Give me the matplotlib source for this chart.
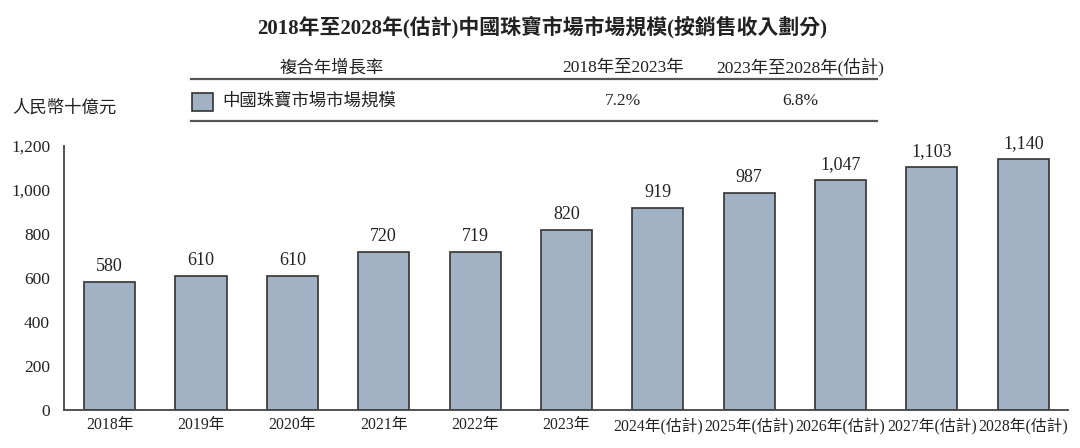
import matplotlib.pyplot as plt
from matplotlib.patches import Rectangle

# 数据
years = ['2018年', '2019年', '2020年', '2021年', '2022年', '2023年',
         '2024年(估計)', '2025年(估計)', '2026年(估計)', '2027年(估計)', '2028年(估計)']
values = [580, 610, 610, 720, 719, 820, 919, 987, 1047, 1103, 1140]
value_labels = ['580', '610', '610', '720', '719', '820', '919', '987', '1,047', '1,103', '1,140']
yticks = [0, 200, 400, 600, 800, 1000, 1200]
ytick_labels = ['0', '200', '400', '600', '800', '1,000', '1,200']
cagr_headers = ['2018年至2023年', '2023年至2028年(估計)']
cagr_values = ['7.2%', '6.8%']

plt.rcParams['font.family'] = ['Liberation Serif', 'Noto Sans CJK TC']
text_color = '#222222'
bar_color = '#a0b2c4'

fig = plt.figure(figsize=(10.8, 4.48), dpi=100)
ax = fig.add_axes([64 / 1080, 1 - 410 / 448, (1068 - 64) / 1080, (410 - 146) / 448])

x = range(len(years))
ax.bar(x, values, width=0.56, color=bar_color, edgecolor='#333333', linewidth=1.2)
for i, (v, lab) in enumerate(zip(values, value_labels)):
    ax.annotate(lab, (i, v), xytext=(0, 5), textcoords='offset points',
                ha='center', va='bottom', fontsize=13, color=text_color)

ax.set_xlim(-0.50, 10.49)
ax.set_ylim(0, 1200)
ax.set_yticks(yticks)
ax.set_yticklabels(ytick_labels)
ax.set_xticks(list(x))
ax.set_xticklabels(years)
ax.tick_params(axis='both', length=0, labelsize=12.5, colors=text_color)
ax.tick_params(axis='x', labelsize=11.3, pad=5)
ax.tick_params(axis='y', pad=10)
for s in ['top', 'right']:
    ax.spines[s].set_visible(False)
for s in ['left', 'bottom']:
    ax.spines[s].set_color('#444444')
    ax.spines[s].set_linewidth(1.3)

# 标题与表格
def fx(px):
    return px / 1080

def fy(py):
    return 1 - py / 448

fig.text(fx(542), fy(27), '2018年至2028年(估計)中國珠寶市場市場規模(按銷售收入劃分)',
         ha='center', va='center', fontsize=15, fontweight='bold', color=text_color)
fig.text(fx(332), fy(68), '複合年增長率', ha='center', va='center', fontsize=12.5, color=text_color)
fig.text(fx(623), fy(68), cagr_headers[0], ha='center', va='center', fontsize=12.5, color=text_color)
fig.text(fx(800), fy(68), cagr_headers[1], ha='center', va='center', fontsize=12.5, color=text_color)
fig.add_artist(plt.Line2D([fx(191), fx(877)], [fy(79), fy(79)], color='#555555', lw=1.6))
fig.add_artist(plt.Line2D([fx(191), fx(877)], [fy(121), fy(121)], color='#555555', lw=1.6))
fig.add_artist(Rectangle((fx(192), fy(111)), fx(21), 18 / 448, facecolor=bar_color,
                         edgecolor='#333333', linewidth=1.2))
fig.text(fx(222), fy(101), '中國珠寶市場市場規模', ha='left', va='center', fontsize=12.5, color=text_color)
fig.text(fx(623), fy(101), cagr_values[0], ha='center', va='center', fontsize=12.5, color=text_color)
fig.text(fx(800), fy(101), cagr_values[1], ha='center', va='center', fontsize=12.5, color=text_color)
fig.text(fx(12), fy(108), '人民幣十億元', ha='left', va='center', fontsize=12.5, color=text_color)

fig.savefig('out.png', dpi=100)
